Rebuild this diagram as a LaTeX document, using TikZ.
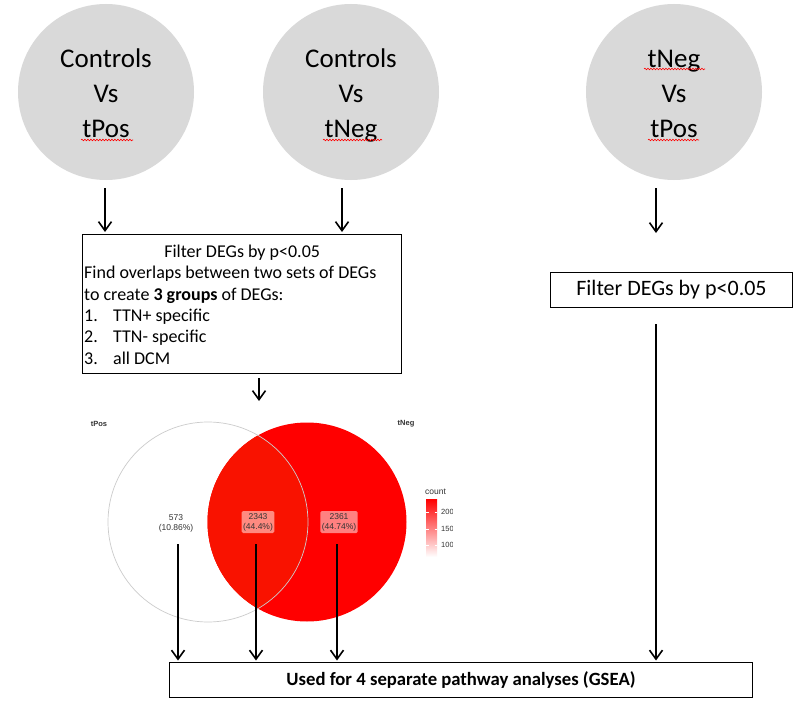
\documentclass[tikz,border=0pt]{standalone}
\usepackage{fontspec}
\setmainfont{Carlito}
\newfontfamily\arialf{Liberation Sans}
\usetikzlibrary{arrows.meta,decorations.pathmorphing}
\definecolor{cgray}{HTML}{D9D9D9}
\definecolor{vred}{HTML}{FF0000}
\definecolor{vint}{HTML}{F91200}
\definecolor{lblA}{HTML}{FF8A80}
\definecolor{lblB}{HTML}{FF8080}
\definecolor{ltxt}{HTML}{333333}
\newcommand{\topstr}{\rule{0pt}{31.5pt}}
\begin{document}
\begin{tikzpicture}[x=1pt,y=-1pt,
  cmp/.style={circle,fill=cgray,minimum size=176pt,inner sep=0pt,align=center,
    font=\fontsize{27}{35}\selectfont},
  flowbox/.style={draw,line width=1pt,rectangle,inner sep=0pt},
  arr/.style={line width=1.6pt,-{Straight Barb[length=9pt,width=13pt,line width=1.6pt]}},
  vlab/.style={font=\arialf\fontsize{8.5}{10}\selectfont,text=ltxt,align=center,inner sep=1.5pt},
  vbox/.style={vlab,rounded corners=1.5pt,minimum width=31pt,minimum height=22pt},
  spell/.style={draw=red,line width=0.6pt,decorate,decoration={snake,amplitude=0.8pt,segment length=3pt}}
]
\useasboundingbox (0,0) rectangle (798,709);
\fill[white] (0,0) rectangle (798,709);

% comparison circles
\node[cmp] (c1) at (106,92) {\topstr Controls\strut\\Vs\strut\\tPos\strut};
\node[cmp] (c2) at (351,92) {\topstr Controls\strut\\Vs\strut\\tNeg\strut};
\node[cmp] (c3) at (674,92) {\topstr tNeg\strut\\Vs\strut\\tPos\strut};
\draw[spell] (81,140) -- (133,140);
\draw[spell] (323,140) -- (382,140);
\draw[spell] (644,69) -- (705,69);
\draw[spell] (648,140) -- (699,140);

% boxes
\node[flowbox,minimum width=319pt,minimum height=139pt,anchor=north west] (f1) at (82,234) {};
\node[anchor=north west,inner sep=0pt] (f1t) at (84,245) {\parbox{316pt}{\fontsize{18}{21.3}\selectfont
  \centering Filter DEGs by p<0.05\par
  \raggedright Find overlaps between two sets of DEGs\\
  to create \textbf{3 groups} of DEGs:\\
  \makebox[29pt][l]{1.}TTN+ specific\\
  \makebox[29pt][l]{2.}TTN- specific\\
  \makebox[29pt][l]{3.}all DCM\par}};

\node[flowbox,minimum width=242pt,minimum height=35pt,anchor=north west,
  font=\fontsize{22}{26}\selectfont] (f2) at (550,272) {Filter DEGs by p<0.05};

\node[flowbox,minimum width=583pt,minimum height=35pt,anchor=north west,
  font=\bfseries\fontsize{18.7}{22}\selectfont] (gsea) at (169,662) {Used for 4 separate pathway analyses (GSEA)};

% Venn diagram
\fill[vred] (307,522) circle (99.5pt);
\begin{scope}
  \clip (208,522) circle (100pt);
  \fill[vint] (307,522) circle (99.5pt);
\end{scope}
\draw[gray!40,line width=0.7pt] (208,522) circle (100pt);
\node[font=\arialf\bfseries\fontsize{7.5}{9}\selectfont,text=ltxt] (lp) at (99,424) {tPos};
\node[font=\arialf\bfseries\fontsize{7.5}{9}\selectfont,text=ltxt] (ln) at (406,424) {tNeg};
\node[vlab] (v1) at (176,523) {573\\(10.86\%)};
\node[vbox,fill=lblA] (v2) at (258,522) {2343\\(44.4\%)};
\node[vbox,fill=lblB] (v3) at (339,522) {2361\\(44.74\%)};

% legend
\node[font=\arialf\fontsize{8.5}{10}\selectfont,text=ltxt,anchor=west,inner sep=0pt] (cnt) at (425,492) {count};
\shade[top color=red,bottom color=white] (426,499) rectangle (437,557);
\foreach \yy in {512,529,545}{
  \draw[white,line width=0.5pt] (426,\yy) -- (428.5,\yy);
  \draw[white,line width=0.5pt] (434.5,\yy) -- (437,\yy);
}
\begin{scope}
  \clip (438,495) rectangle (452,560);
  \node[font=\arialf\fontsize{7.5}{9}\selectfont,text=ltxt,anchor=west,inner sep=0pt] (t2) at (441,512) {2000};
  \node[font=\arialf\fontsize{7.5}{9}\selectfont,text=ltxt,anchor=west,inner sep=0pt] (t15) at (441,529) {1500};
  \node[font=\arialf\fontsize{7.5}{9}\selectfont,text=ltxt,anchor=west,inner sep=0pt] (t1) at (441,545) {1000};
\end{scope}

% connectors
\coordinate (s1) at (105,188);
\coordinate (s2) at (342,188);
\coordinate (s3) at (656,188);
\coordinate (s4) at (259,378);
\coordinate (e4) at (259,401);
\coordinate (s5) at (178,544);
\coordinate (s6) at (256,544);
\coordinate (s7) at (337,544);
\coordinate (s8) at (656,324);
\draw[arr,shorten >=2pt] (s1) -- (s1 |- f1.north);
\draw[arr,shorten >=2pt] (s2) -- (s2 |- f1.north);
\draw[arr,shorten >=39pt] (s3) -- (s3 |- f2.north);
\draw[arr] (s4) -- (e4);
\draw[arr,shorten >=1.5pt] (s5) -- (s5 |- gsea.north);
\draw[arr,shorten >=1.5pt] (s6) -- (s6 |- gsea.north);
\draw[arr,shorten >=1.5pt] (s7) -- (s7 |- gsea.north);
\draw[arr,shorten >=1.5pt] (s8) -- (s8 |- gsea.north);
\end{tikzpicture}
\end{document}
